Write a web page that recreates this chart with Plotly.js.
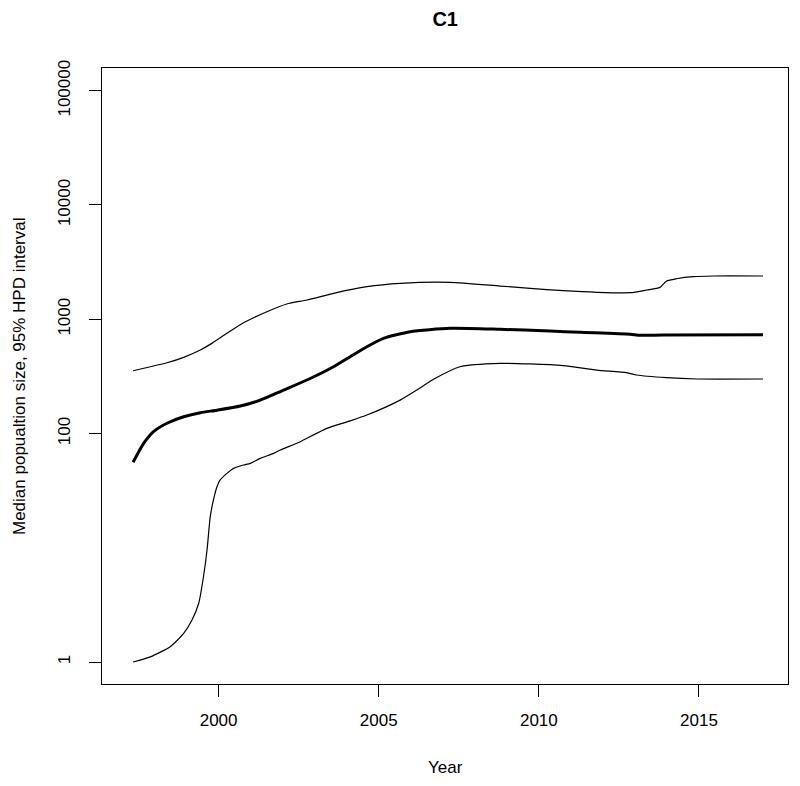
<!DOCTYPE html>
<html>
<head>
<meta charset="utf-8">
<script src="https://cdn.plot.ly/plotly-3.0.1.min.js"></script>
<style>html,body{margin:0;padding:0;background:#fff;}#chart{width:800px;height:786px;}</style>
</head>
<body>
<div id="chart"></div>
<script>
// Median population size
const medianYears = [1997.33,1997.66,1997.97,1998.39,1998.91,1999.43,1999.95,2000.68,2001.30,2002.03,2002.76,2003.59,2004.11,2004.63,2005.15,2005.98,2007.23,2008.79,2010.35,2011.29,2012.85,2013.16,2013.88,2017.0];
const medianValues = [56,82,104,123,140,152,160,174,196,240,294,384,470,575,681,778,833,816,789,769,739,723,728,732];

// Upper 95% HPD bound
const upperYears = [1997.33,1997.87,1998.39,1998.91,1999.43,1999.79,2000.26,2000.78,2001.51,2002.13,2002.76,2003.59,2004.63,2005.67,2007.23,2008.79,2009.73,2010.76,2011.81,2012.85,2013.37,2013.78,2013.99,2014.30,2014.82,2015.44,2017.0];
const upperValues = [354,384,416,464,538,615,753,933,1164,1360,1474,1685,1928,2062,2104,1953,1866,1778,1721,1707,1803,1901,2160,2263,2357,2390,2390];

// Lower 95% HPD bound
const lowerYears = [1997.33,1997.87,1998.49,1998.91,1999.17,1999.38,1999.53,1999.64,1999.74,1999.84,1999.95,2000.05,2000.26,2000.47,2000.78,2000.99,2001.30,2001.72,2001.93,2002.55,2003.38,2004.11,2004.63,2005.67,2006.19,2006.71,2007.54,2008.79,2009.73,2010.76,2011.81,2012.74,2013.05,2013.99,2014.93,2017.0];
const lowerValues = [1.0,1.11,1.36,1.78,2.33,3.27,5.6,9.6,18.7,26.2,34.2,39.2,44.8,49.5,53,54.8,60.6,67,71.7,84.7,111,129,145,196,240,298,384,411,406,392,359,341,325,308,300,300];

const xTickVals = [2000, 2005, 2010, 2015];
const xTickText = ["2000", "2005", "2010", "2015"];
const yTickVals = [1, 100, 1000, 10000, 100000];
const yTickText = ["1", "100", "1000", "10000", "100000"];

const titleText = "C1";
const xTitle = "Year";
const yTitle = "Median popualtion size, 95% HPD interval";

const font = "Liberation Sans, Arial, Helvetica, sans-serif";

const traces = [
  {x: upperYears, y: upperValues, type: "scatter", mode: "lines",
   line: {color: "#000", width: 1.2, shape: "spline", smoothing: 0.6}, hoverinfo: "skip"},
  {x: lowerYears, y: lowerValues, type: "scatter", mode: "lines",
   line: {color: "#000", width: 1.2, shape: "spline", smoothing: 0.6}, hoverinfo: "skip"},
  {x: medianYears, y: medianValues, type: "scatter", mode: "lines",
   line: {color: "#000", width: 3, shape: "spline", smoothing: 0.6}, hoverinfo: "skip"}
];

const layout = {
  width: 800, height: 786,
  margin: {l: 102, r: 12, t: 68, b: 102, pad: 0},
  paper_bgcolor: "#fff", plot_bgcolor: "#fff",
  showlegend: false,
  font: {family: font, color: "#000", size: 17},
  title: {text: "<b>" + titleText + "</b>", font: {family: font, size: 20, color: "#000"},
          x: 0.5565, xanchor: "center", y: 1 - 19/786, yanchor: "middle", yref: "container"},
  xaxis: {
    range: [1996.36, 2017.78], showgrid: false, zeroline: false,
    showline: true, linecolor: "#000", linewidth: 1, mirror: true,
    ticks: "outside", ticklen: 12, tickwidth: 1, tickcolor: "#000",
    tickvals: xTickVals, ticktext: xTickText, tickfont: {size: 17},
    ticklabelstandoff: 9
  },
  yaxis: {
    type: "log", range: [-0.1925, 5.199], showgrid: false, zeroline: false,
    showline: true, linecolor: "#000", linewidth: 1, mirror: true,
    ticks: "outside", ticklen: 12, tickwidth: 1, tickcolor: "#000",
    tickvals: yTickVals, ticktext: yTickText, tickfont: {size: 17},
    tickangle: -90, ticklabelstandoff: 12
  },
  annotations: [
    {text: xTitle, xref: "paper", yref: "paper", x: 0.5, y: -84/616,
     xanchor: "center", yanchor: "middle", showarrow: false, font: {size: 17}},
    {text: yTitle, xref: "paper", yref: "paper", x: -83/686, y: 0.5, textangle: -90,
     xanchor: "center", yanchor: "middle", showarrow: false, font: {size: 17}}
  ]
};

Plotly.newPlot("chart", traces, layout, {staticPlot: true, displayModeBar: false});
</script>
</body>
</html>
